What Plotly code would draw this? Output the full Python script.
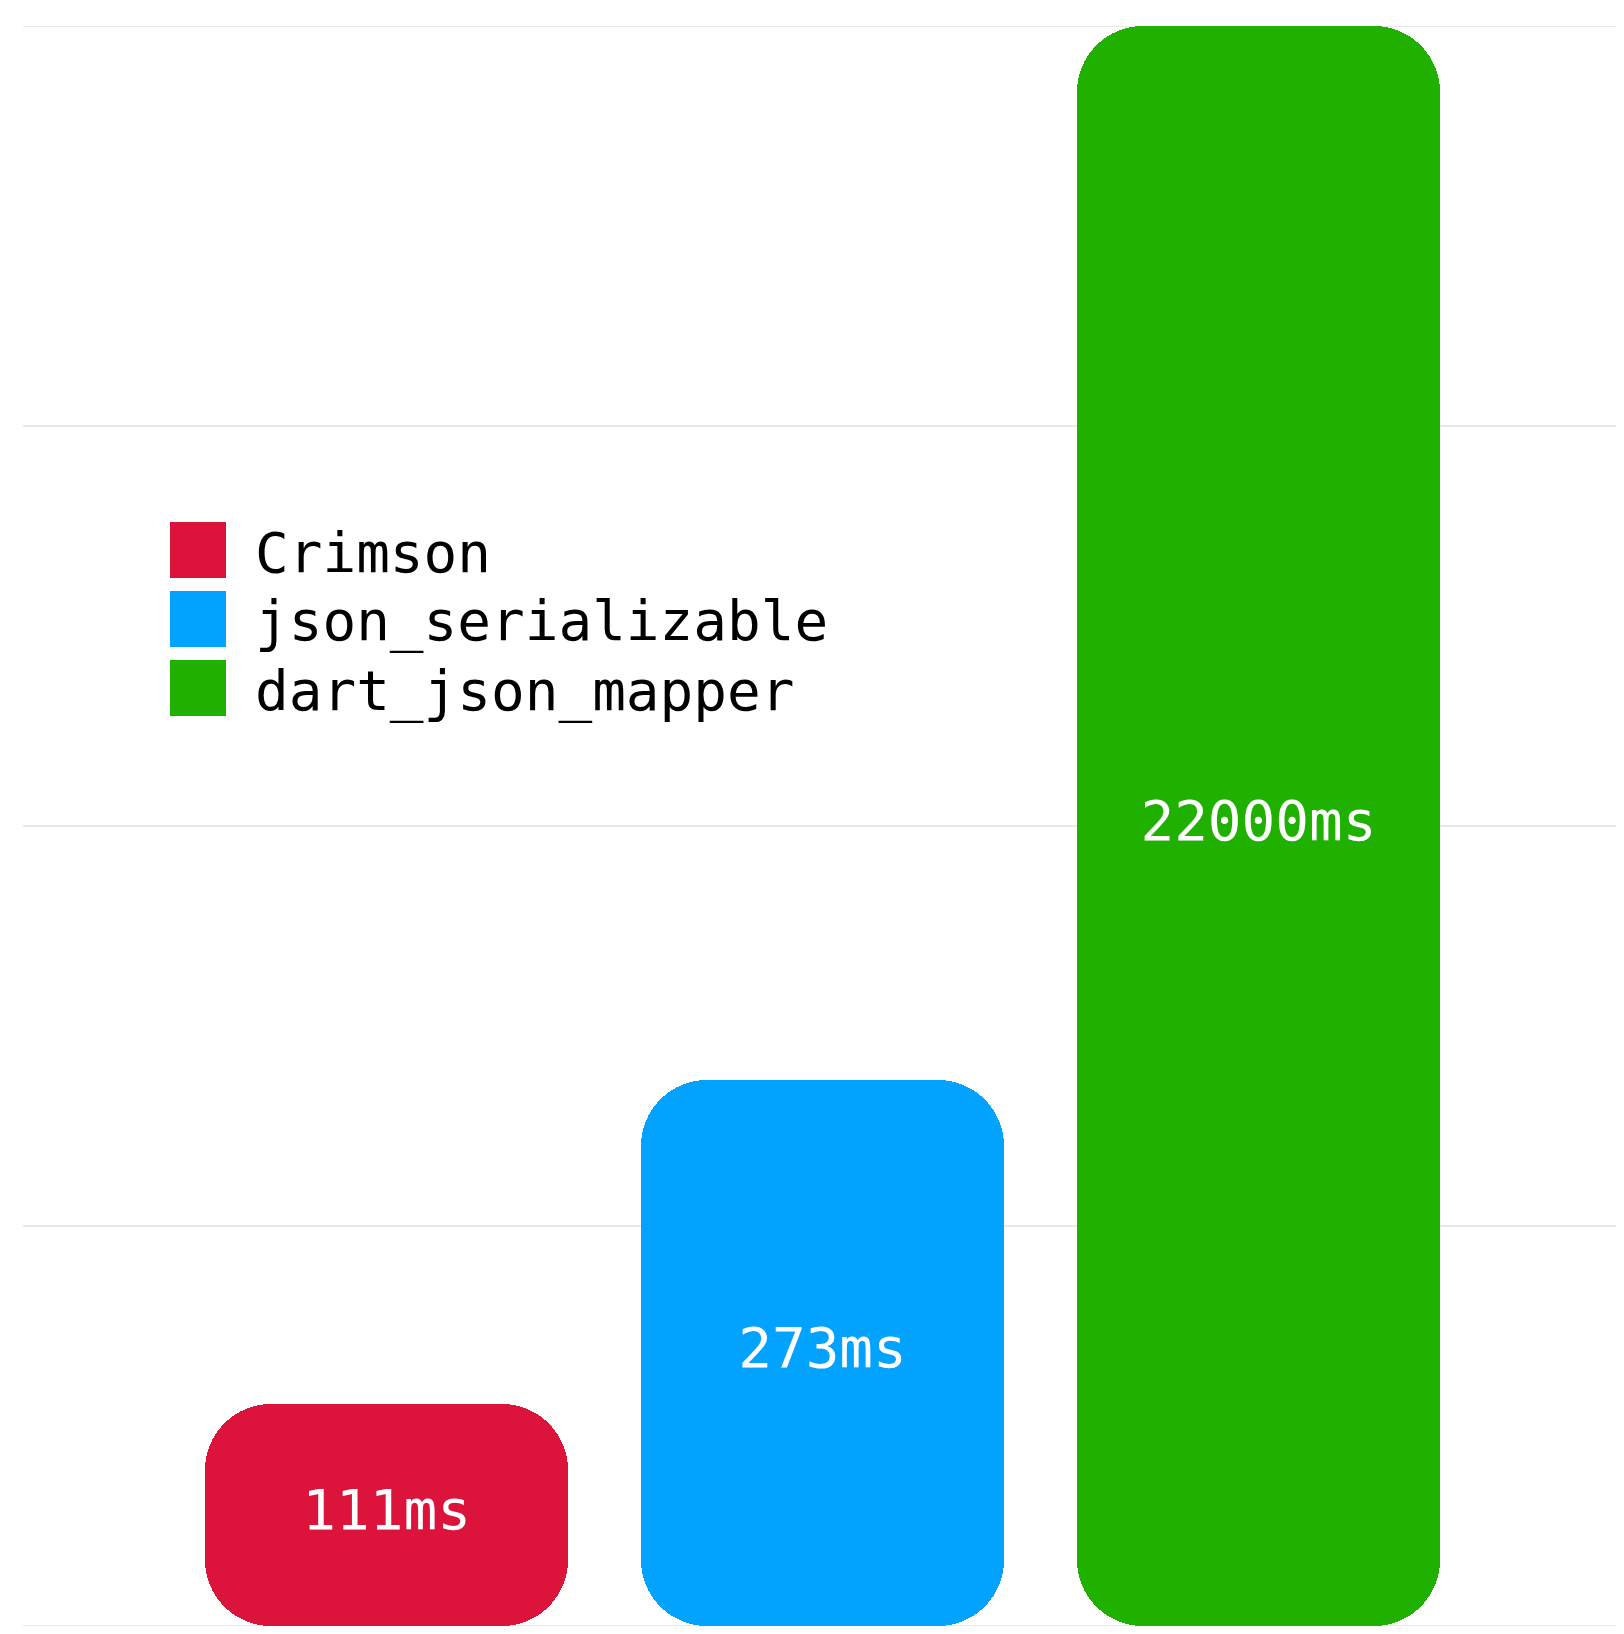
import numpy as np
import plotly.graph_objects as go

# ---- data ----
series_names = ["Crimson", "json_serializable", "dart_json_mapper"]
times_ms = [111, 273, 22000]
value_labels = ["111ms", "273ms", "22000ms"]
colors = ["#DC143C", "#02A2FF", "#20B000"]

Y_MAX = 800
Y_DTICK = 200

W, H = 1624, 1634
OFF = 8  # default page body margin
# plot area in window pixels
PX0, PX1, PY0, PY1 = 23, 1622, 26, 1626
M_L = PX0 - OFF
M_T = PY0 - OFF
M_R = W - (PX1 - OFF)
M_B = H - (PY1 - OFF)
PLOT_W = PX1 - PX0
PLOT_H = PY1 - PY0

FONT = "DejaVu Sans Mono"
FS = 56
RADIUS = 66

fig = go.Figure()
shown = np.minimum(np.array(times_ms, dtype=float), Y_MAX)
xs = np.arange(len(series_names))

for i, (name, d, col) in enumerate(zip(series_names, shown, colors)):
    # explicit base -> plotly rounds both ends of the bar
    fig.add_trace(go.Bar(x=[xs[i]], y=[d], base=[0], width=0.833,
                         marker=dict(color=col, line=dict(width=0), cornerradius=RADIUS),
                         name=name, showlegend=False, hoverinfo="skip"))

fig.add_trace(go.Scatter(x=xs, y=shown / 2, mode="text", text=value_labels,
                         textposition="middle center",
                         textfont=dict(family=FONT, size=FS, color="white"),
                         showlegend=False, hoverinfo="skip"))

def px2paper_x(px):
    return (px - PX0) / PLOT_W

def px2paper_y(py):
    return (PY1 - py) / PLOT_H

shapes = []
# horizontal gridlines (including the edges), running to the right page edge
for gv in np.arange(0, Y_MAX + 1, Y_DTICK):
    shapes.append(dict(type="line", xref="paper", yref="y", x0=0, x1=px2paper_x(1632),
                       y0=gv, y1=gv,
                       line=dict(color="#d2d2d2", width=1), layer="below"))

# ---- manual legend (big square swatches) ----
LEG_X, LEG_TOP, SW, PITCH, TXT_X = 170, 522, 56, 69, 253
annotations = []
for i, (name, col) in enumerate(zip(series_names, colors)):
    top = LEG_TOP + i * PITCH
    shapes.append(dict(type="rect", xref="paper", yref="paper",
                       x0=px2paper_x(LEG_X), x1=px2paper_x(LEG_X + SW),
                       y0=px2paper_y(top + SW), y1=px2paper_y(top),
                       fillcolor=col, line=dict(width=0), layer="above"))
    annotations.append(dict(xref="paper", yref="paper",
                            x=px2paper_x(TXT_X), y=px2paper_y(top + SW / 2 + 2),
                            xanchor="left", yanchor="middle", showarrow=False,
                            text=name, font=dict(family=FONT, size=FS, color="black")))

fig.update_layout(
    width=W, height=H,
    margin=dict(l=M_L, r=M_R, t=M_T, b=M_B, pad=0),
    paper_bgcolor="white", plot_bgcolor="white",
    barmode="overlay",
    bargap=0,
    shapes=shapes, annotations=annotations,
    xaxis=dict(range=[-0.834, 2.834], showgrid=False, zeroline=False,
               showticklabels=False, ticks="", showline=False, fixedrange=True),
    yaxis=dict(range=[0, Y_MAX], showgrid=False, zeroline=False,
               showticklabels=False, ticks="", showline=False, fixedrange=True),
    showlegend=False,
)

fig.write_html("out.html", post_script="document.body.style.overflow='hidden';")
